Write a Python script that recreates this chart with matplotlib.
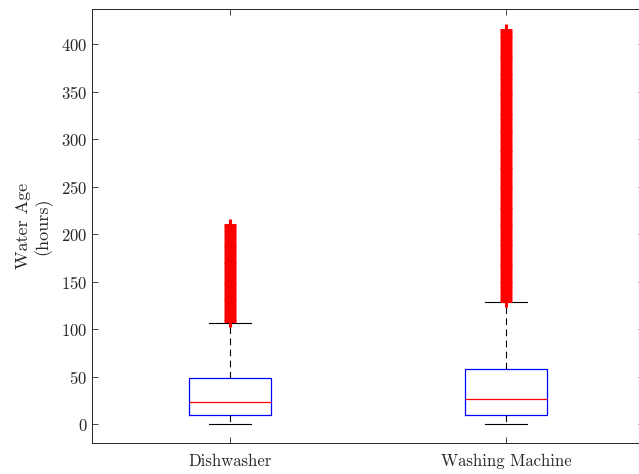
import matplotlib
matplotlib.use("Agg")
import matplotlib.pyplot as plt

plt.rcParams['font.family'] = 'serif'
plt.rcParams['font.serif'] = ['cmr10', 'DejaVu Serif']
plt.rcParams['mathtext.fontset'] = 'cm'
plt.rcParams['axes.formatter.use_mathtext'] = True

categories = ["Dishwasher", "Washing Machine"]
medians = [22.8, 26.0]
q1s = [9.5, 9.5]
q3s = [48.1, 57.5]
whis_lo = [0.0, 0.0]
whis_hi = [106.6, 128.7]
fliers_dish = [108, 111, 114, 117, 120, 123, 126, 129, 132, 135, 138, 141, 144,
               147, 150, 153, 156, 159, 162, 165, 168, 171, 174, 177, 180, 183,
               186, 189, 192, 195, 198, 201, 204, 207, 210]
fliers_wash = [130, 133, 136, 139, 142, 145, 148, 151, 154, 157, 160, 163, 166,
               169, 172, 175, 178, 181, 184, 187, 190, 193, 196, 199, 202, 205,
               208, 211, 214, 217, 220, 223, 226, 229, 232, 235, 238, 241, 244,
               247, 250, 253, 256, 259, 262, 265, 268, 271, 274, 277, 280, 283,
               286, 289, 292, 295, 298, 301, 304, 307, 310, 313, 316, 319, 322,
               325, 328, 331, 334, 337, 340, 343, 346, 349, 352, 355, 358, 361,
               364, 367, 370, 373, 376, 379, 382, 385, 388, 391, 394, 397, 400,
               403, 406, 409, 412, 415]
fliers = [fliers_dish, fliers_wash]
yticks = [0, 50, 100, 150, 200, 250, 300, 350, 400]

stats = []
for i, name in enumerate(categories):
    stats.append(dict(label=name, med=medians[i], q1=q1s[i], q3=q3s[i],
                      whislo=whis_lo[i], whishi=whis_hi[i], fliers=fliers[i]))

fig = plt.figure(figsize=(6.39, 4.74), dpi=100)
ax = fig.add_axes([92/639, 31/474, 552/639, 434/474])

ax.bxp(stats, positions=[1, 2], widths=0.3,
       boxprops=dict(color='#0000ff', linewidth=0.9),
       medianprops=dict(color='#ff0000', linewidth=0.9),
       whiskerprops=dict(color='black', linestyle=(0, (6, 4)), linewidth=0.8),
       capprops=dict(color='black', linewidth=0.8),
       capwidths=0.15,
       flierprops=dict(marker='+', markeredgecolor='#ff0000', markersize=8.5,
                       markeredgewidth=2.2, linestyle='none'))

ax.set_xlim(0.5, 2.5)
ax.set_ylim(-20, 437)
ax.set_yticks(yticks)
ax.set_xticks([1, 2])
ax.set_xticklabels(categories)
ax.tick_params(direction='in', length=4, width=0.6, colors='#262626',
               labelsize=12, top=True, right=True)
ax.tick_params(axis='x', pad=8)
for sp in ax.spines.values():
    sp.set_color('#262626')
    sp.set_linewidth(0.7)
ax.set_ylabel("Water Age\n(hours)", fontsize=13, color='#262626', labelpad=6)

fig.savefig("out.png", dpi=100)
